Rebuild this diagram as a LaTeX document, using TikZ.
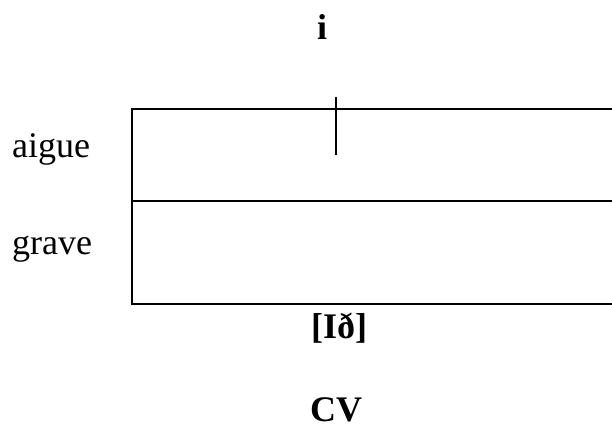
\documentclass[tikz,border=0pt]{standalone}
\usepackage{fontspec}
\setmainfont{Liberation Serif}
\usetikzlibrary{positioning}

\begin{document}
\begin{tikzpicture}[
  x=1pt, y=-1pt,
  sidelab/.style={font=\fontsize{36}{40}\selectfont, anchor=base west, inner sep=0pt},
  boldlab/.style={font=\fontsize{36}{40}\selectfont\bfseries, anchor=base, inner sep=0pt},
  gridline/.style={line width=1.1pt},
]
  \useasboundingbox (0,0) rectangle (612,434);

  % Y positions
  \def\ytop{109}  % top of the box
  \def\ymid{201}  % aigue / grave border
  \def\ybot{304}  % bottom of the box
  \def\xl{132}    % left edge
  \def\xr{612}    % right edge (open)
  \def\xt{336}    % tick position

  % Labels
  \node[boldlab] (vowel) at (322, 39) {i};
  \node[sidelab] (aigue) at (12, 157) {aigue};
  \node[sidelab] (grave) at (12, 254) {grave};
  \node[boldlab] (syll) at (339, 338) {[Ið]};
  \node[boldlab] (cv) at (336, 421) {CV};

  % Box
  \draw[gridline] (\xr, \ytop) -- (\xl, \ytop) -- (\xl, \ybot) -- (\xr, \ybot);
  \draw[gridline] (\xl, \ymid) -- (\xr, \ymid);

  % Tick
  \coordinate (tickA) at (\xt, 97);
  \coordinate (tickB) at (\xt, 155);
  \draw[line width=1.5pt] (tickA) -- (tickB);
\end{tikzpicture}
\end{document}
